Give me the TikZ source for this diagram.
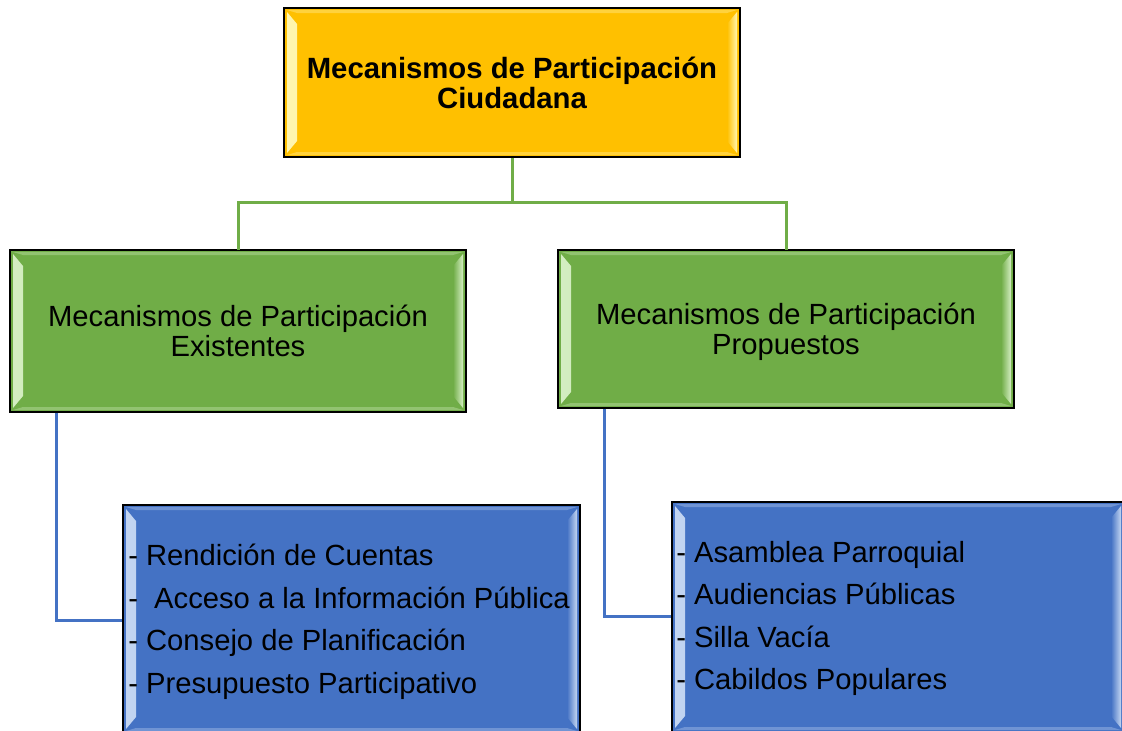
\documentclass[tikz,border=0pt]{standalone}
\usepackage{fontspec}
\setmainfont{Liberation Sans}
\usetikzlibrary{calc}
\definecolor{goldbase}{HTML}{FFC000}
\definecolor{goldlight}{HTML}{FFF6B0}
\definecolor{greenbase}{HTML}{70AD47}
\definecolor{greenlight}{HTML}{D4EEC2}
\definecolor{bluebase}{HTML}{4472C4}
\definecolor{bluelight}{HTML}{C4D6F2}
\newcommand\bevelstrips[2]{%
  \shade[left color=#2,right color=#1]
    let \p1=(path picture bounding box.north west),
        \p2=(path picture bounding box.south east) in
    (\x1+3pt,\y1-4pt) -- (\x1+13pt,\y1-16pt) -- (\x1+13pt,\y2+16pt) -- (\x1+3pt,\y2+4pt) -- cycle;
  \shade[left color=#1,right color=#2]
    let \p1=(path picture bounding box.north west),
        \p2=(path picture bounding box.south east) in
    (\x2-13pt,\y1-16pt) -- (\x2-3pt,\y1-4pt) -- (\x2-3pt,\y2+4pt) -- (\x2-13pt,\y2+16pt) -- cycle;
  \fill[#2,opacity=0.35]
    let \p1=(path picture bounding box.north west),
        \p2=(path picture bounding box.south east) in
    (\x1+3pt,\y1-2pt) -- (\x2-3pt,\y1-2pt) -- (\x2-13pt,\y1-5pt) -- (\x1+13pt,\y1-5pt) -- cycle
    (\x1+3pt,\y2+2pt) -- (\x2-3pt,\y2+2pt) -- (\x2-13pt,\y2+5pt) -- (\x1+13pt,\y2+5pt) -- cycle;
}
\tikzset{
  chartbox/.style={draw=black, line width=1.8pt, inner sep=0pt, align=center},
  goldbox/.style={chartbox, fill=goldbase, path picture={\bevelstrips{goldbase}{goldlight}},
    font=\fontsize{29.3}{30}\selectfont\bfseries},
  greenbox/.style={chartbox, fill=greenbase, path picture={\bevelstrips{greenbase}{greenlight}},
    font=\fontsize{29.2}{30}\selectfont},
  bluebox/.style={chartbox, fill=bluebase, path picture={\bevelstrips{bluebase}{bluelight}}},
  listtext/.style={anchor=west, inner sep=0pt, align=left, font=\fontsize{29.2}{42.5}\selectfont},
  greenlink/.style={draw=greenbase, line width=3pt},
  bluelink/.style={draw=bluebase, line width=3pt},
}
\begin{document}
\begin{tikzpicture}[x=1pt,y=-1pt]
\useasboundingbox (0,0) rectangle (1122,731);
\clip (0,0) rectangle (1122,731);
\node[goldbox, minimum width=456pt, minimum height=149pt] (top) at (512,82.5)
  {Mecanismos de Participación\\Ciudadana};
\node[greenbox, minimum width=456pt, minimum height=162pt] (gl) at (238,331)
  {Mecanismos de Participación\\Existentes};
\node[greenbox, minimum width=456pt, minimum height=158pt] (gr) at (786,329)
  {\rule{0pt}{28pt}Mecanismos de Participación\\Propuestos};
\node[bluebox, minimum width=457pt, minimum height=228pt] (bl) at (351.5,619) {};
\node[bluebox, minimum width=452pt, minimum height=230pt] (br) at (898,617) {};
\node[listtext] (bltext) at ([xshift=6pt,yshift=-3pt]bl.west)
  {- Rendición de Cuentas\\-\ \ Acceso a la Información Pública\\- Consejo de Planificación\\- Presupuesto Participativo};
\node[listtext] (brtext) at ([xshift=5pt,yshift=-1.5pt]br.west)
  {- Asamblea Parroquial\\- Audiencias Públicas\\- Silla Vacía\\- Cabildos Populares};
\coordinate (bus) at (512,202);
\draw[greenlink] (top.south) -- (bus);
\draw[greenlink] ([yshift=-1pt]gl.north) |- (bus) -| ([yshift=-1pt]gr.north);
\draw[bluelink] ([xshift=47pt]gl.south west) |- ([yshift=-1pt]bl.west);
\draw[bluelink] ([xshift=47pt]gr.south west) |- ([yshift=1pt]br.west);
\end{tikzpicture}
\end{document}
